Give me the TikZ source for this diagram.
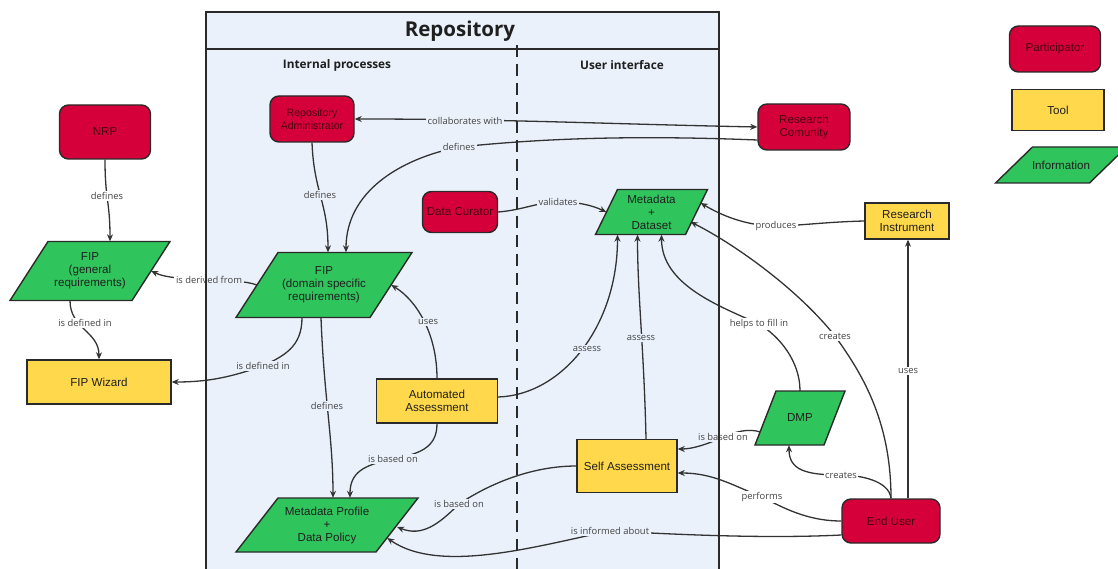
\documentclass[tikz,border=0pt]{standalone}
\usepackage{fontspec}
\usetikzlibrary{arrows.meta,calc}
\setmainfont{Liberation Sans}
\newfontfamily\labfam{Open Sans}
\newcommand\nodefont{\fontsize{11.6}{13}\selectfont}
\newcommand\smallnodefont{\fontsize{10.6}{12.5}\selectfont}
\newcommand\labfont{\labfam\fontsize{9.4}{11}\selectfont}
\newcommand\titlefont{\labfam\bfseries\fontsize{20.5}{23}\selectfont}
\newcommand\headfont{\labfam\bfseries\fontsize{11.8}{13}\selectfont}
\definecolor{partred}{HTML}{D5003A}
\definecolor{parttext}{HTML}{4A0010}
\definecolor{toolyel}{HTML}{FFD84B}
\definecolor{infogreen}{HTML}{30C55C}
\definecolor{bordc}{HTML}{2A2A2A}
\definecolor{edgec}{HTML}{333333}
\definecolor{labc}{HTML}{444444}
\definecolor{repobg}{HTML}{EAF1FB}
\pgfdeclarelayer{bg}
\pgfdeclarelayer{edges}
\pgfsetlayers{bg,edges,main}
\tikzset{
  part/.style={draw=bordc, line width=1.4pt, fill=partred, rounded corners=9pt, text=parttext, align=center, font=\nodefont, inner sep=0pt},
  tool/.style={draw=bordc, line width=1.4pt, fill=toolyel, text=black!88, align=center, font=\nodefont, inner sep=0pt},
  infotext/.style={align=center, font=\nodefont, text=black!88, inner sep=0pt},
  info/.style={draw=bordc, line width=1.4pt, fill=infogreen, line join=miter},
  lab/.style={font=\labfont, text=labc, inner sep=1.5pt, fill=white},
  labin/.style={lab, fill=repobg},
  conn/.style={draw=edgec, line width=1.3pt},
  arr/.style={conn, -{Stealth[length=7pt,width=6pt]}},
  arrboth/.style={conn, {Stealth[length=7pt,width=6pt]}-{Stealth[length=7pt,width=6pt]}},
  repoline/.style={draw=bordc, line width=1.6pt},
  head/.style={font=\headfont, text=black!88},
}
\newcommand\infobox[7]{%
  \draw[info] (#2-#4/2-#6/2,#3+#5/2) -- ++(#4,0) -- ++(#6,-#5) -- ++(-#4,0) -- cycle;
  \node[infotext, minimum width=#4, minimum height=#5] (#1) at (#2,#3) {#7};}
\begin{document}
\begin{tikzpicture}[x=1pt,y=-1pt]
\useasboundingbox (0,0) rectangle (1118,569);
\begin{pgfonlayer}{bg}
\fill[white] (0,0) rectangle (1118,569);
\fill[repobg] (206,12) rectangle (719,569);
\end{pgfonlayer}

% nodes
\node[part, minimum width=91, minimum height=54] (nrp) at (105,132) {NRP};
\infobox{fipg}{90}{271}{122}{59}{38}{FIP\\(general\\requirements)}
\node[tool, minimum width=144, minimum height=44] (wiz) at (99,382) {FIP Wizard};
\node[part, minimum width=84, minimum height=46, font=\smallnodefont] (ra) at (312,119) {Repository\\Administrator};
\node[part, minimum width=92, minimum height=46] (rc) at (804,127) {Research\\Comunity};
\node[part, minimum width=75, minimum height=41] (dc) at (460,212) {Data Curator};
\infobox{fipd}{324}{285}{134}{65}{42}{FIP\\(domain specific\\requirements)}
\infobox{md}{651.5}{212}{90}{45}{22}{Metadata\\+\\Dataset}
\node[tool, minimum width=84, minimum height=36] (ri) at (907,221) {Research\\Instrument};
\node[tool, minimum width=121, minimum height=44] (aa) at (437,401) {Automated\\Assessment};
\infobox{dmp}{800}{418}{69}{54}{21}{DMP}
\node[tool, minimum width=100, minimum height=53] (sa) at (627,466) {Self Assessment};
\infobox{mp}{327}{525}{140}{54}{42}{Metadata Profile\\+\\Data Policy}
\node[part, minimum width=98, minimum height=44] (eu) at (891,521) {End User};
% legend
\node[part, minimum width=91, minimum height=46] (lp) at (1055,49) {Participator};
\node[tool, minimum width=92, minimum height=41] (lt) at (1058,110) {Tool};
\infobox{li}{1061}{165}{94}{36}{37}{Information}

% labels
\node[lab] (l1) at (107,196) {defines};
\node[lab] (l2) at (85,323) {is defined in};
\node[lab, fill=none] (l3) at (209,280) {is derived from};
\node[labin] (l4) at (263,366) {is defined in};
\node[labin] (l5) at (320,195) {defines};
\node[labin] (l6) at (465,121) {collaborates with};
\node[labin] (l7) at (459,147) {defines};
\node[labin] (l8) at (558,202) {validates};
\node[lab] (l9) at (776,226) {produces};
\node[lab] (l10) at (835,336) {creates};
\node[lab] (l11) at (908,371) {uses};
\node[lab] (l12) at (759,324) {helps to fill in};
\node[labin] (l13) at (428,322) {uses};
\node[labin] (l14) at (393,459) {is based on};
\node[labin] (l15) at (327,406) {defines};
\node[labin] (l16) at (587,349) {assess};
\node[labin] (l17) at (641,338) {assess};
\node[labin] (l18) at (459,504) {is based on};
\node[labin] (l19) at (610,531) {is informed about};
\node[lab] (l20) at (762,497) {performs};
\node[lab] (l21) at (841,475) {creates};
\node[lab, fill=none] (l22) at (723,437) {is based on};

% connectors
\begin{pgfonlayer}{edges}
\draw[arr] (nrp.south) .. controls +(0,40) and +(0,-40) .. ([xshift=20pt]fipg.north);
\draw[arr] ([xshift=-20pt]fipg.south) .. controls +(0,28) and +(0,-28) .. (wiz.north);
\draw[arr] (fipd.west) .. controls +(-20,-8) and +(25,12) .. (fipg.east);
\draw[arr] ([xshift=-22pt]fipd.south) .. controls +(0,30) and +(20,-10) .. (l4.center) .. controls +(-30,10) and +(40,0) .. (wiz.east);
\draw[arr] (ra.south) .. controls +(2,50) and +(0,-50) .. ([xshift=4pt]fipd.north);
\draw[arrboth] (ra.east) .. controls +(150,0) and +(-150,-3) .. (rc.west);
\draw[arr] ([shift={(0,13)}]rc.west) .. controls +(-150,-6) and +(60,-6) .. (l7.center) .. controls +(-60,12) and +(0,-60) .. ([xshift=22pt]fipd.north);
\draw[arr] (dc.east) .. controls +(25,-2) and +(-20,0) .. (l8.center) .. controls +(20,0) and +(-15,-7) .. (md.west);
\draw[arr] (ri.west) .. controls +(-40,1) and +(20,0) .. (l9.center) .. controls +(-30,0) and +(20,12) .. ([shift={(4,-9)}]md.east);
\draw[arr] (eu.north) .. controls +(0,-80) and +(25,35) .. (l10.center) .. controls +(-40,-50) and +(40,20) .. ([shift={(-6,10)}]md.east);
\draw[arr] ([xshift=17pt]eu.north) -- ([xshift=1pt]ri.south);
\draw[arr] (dmp.north) .. controls +(0,-30) and +(20,12) .. (l12.center) .. controls +(-40,-18) and +(0,50) .. ([xshift=10pt]md.south);
\draw[arr] (aa.north) .. controls +(0,-45) and +(25,15) .. (fipd.east);
\draw[arr] (aa.south) .. controls +(0,25) and +(25,-5) .. (l14.center) .. controls +(-30,6) and +(0,-25) .. ([xshift=23pt]mp.north);
\draw[arr] ([xshift=-3pt]fipd.south) .. controls +(3,80) and +(0,-60) .. ([xshift=6pt]mp.north);
\draw[arr] ([shift={(0,-4)}]aa.east) .. controls +(63,-2) and +(0,93) .. ([xshift=-34pt]md.south);
\draw[arr] ([xshift=19pt]sa.north) .. controls +(-2,-90) and +(0,60) .. ([xshift=-14pt]md.south);
\draw[arr] (sa.west) .. controls +(-45,0) and +(30,-20) .. (l18.center) .. controls +(-20,20) and +(25,10) .. ([shift={(0,2)}]mp.east);
\draw[arr] ([shift={(0,14)}]eu.west) .. controls +(-80,4) and +(60,3) .. (l19.center) .. controls +(-70,14) and +(53,37) .. ([shift={(-10,13)}]mp.east);
\draw[arr] (eu.west) .. controls +(-35,0) and +(20,10) .. (l20.center) .. controls +(-30,-12) and +(35,0) .. ([shift={(0,7)}]sa.east);
\draw[arr] (eu.north) .. controls +(-2,-18) and +(18,0) .. (l21.center) .. controls +(-35,0) and +(0,25) .. ([xshift=-11pt]dmp.south);
\draw[arr] ([shift={(-5,14)}]dmp.west) .. controls +(-12,-4) and +(12,-5) .. (l22.center) .. controls +(-15,7) and +(15,0) .. ([shift={(0,-17)}]sa.east);
% erasers behind labels that straddle the repository border
\fill[white] (l3.south west) rectangle (l3.north -| 206,0);
\fill[repobg] (l3.south -| 206,0) rectangle (l3.north east);
\fill[repobg] (l22.south west) rectangle (l22.north -| 719,0);
\fill[white] (l22.south -| 719,0) rectangle (l22.north east);
\end{pgfonlayer}

% repository frame
\draw[repoline] (206,569) -- (206,12) -- (719,12) -- (719,569);
\draw[repoline, line width=2.4pt] (206,49) -- (719,49);
\draw[draw=bordc, line width=2.5pt, dash pattern=on 12pt off 7pt] (517,45) -- (517,569);
\node[font=\titlefont, text=black!88] (title) at (460,31) {Repository};
\node[head] (hint) at (337,65) {Internal processes};
\node[head] (hui) at (622,65) {User interface};
\end{tikzpicture}
\end{document}
